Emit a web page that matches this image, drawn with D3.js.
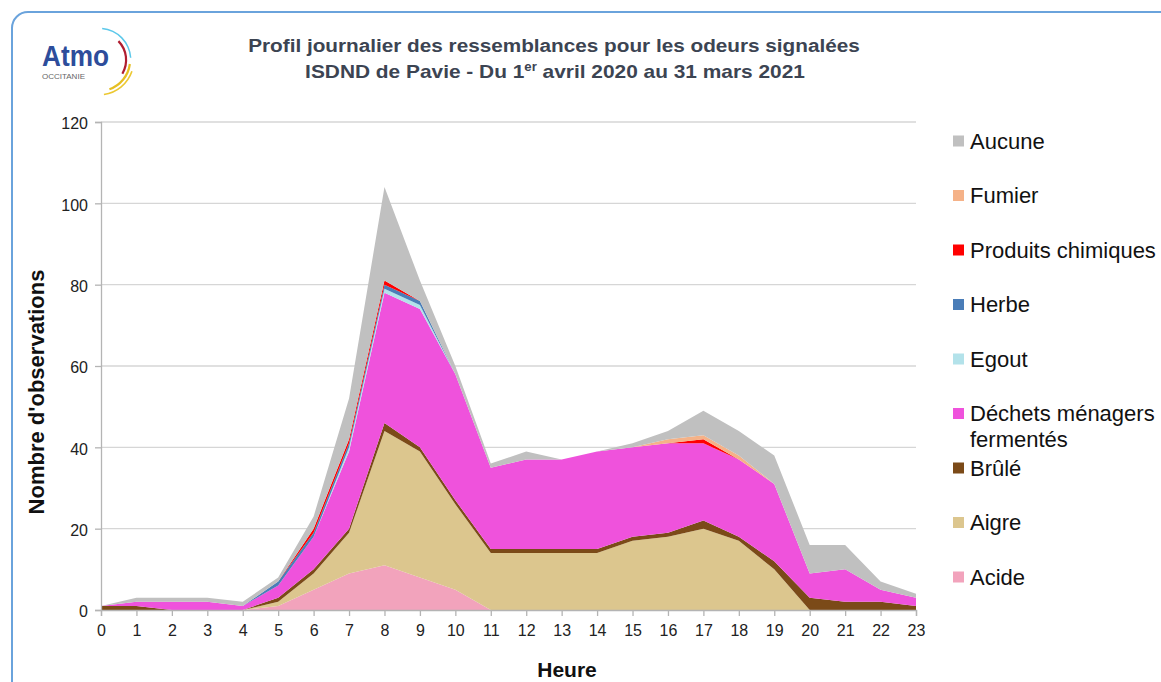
<!DOCTYPE html>
<html>
<head>
<meta charset="utf-8">
<script src="https://cdn.jsdelivr.net/npm/d3@7"></script>
<style>
  body { margin: 0; background: #fff; }
  svg { display: block; font-family: "Liberation Sans", Arial, sans-serif; }
</style>
</head>
<body>
<svg id="chart" width="1161" height="682"></svg>
<script>
const hours = [0,1,2,3,4,5,6,7,8,9,10,11,12,13,14,15,16,17,18,19,20,21,22,23];
const yTicks = [0,20,40,60,80,100,120];

// series, bottom to top of the stack
const acide    = [0,0,0,0,0,1,5,9,11,8,5,0,0,0,0,0,0,0,0,0,0,0,0,0];
const aigre    = [0,0,0,0,0,1,4,10,33,31,21,14,14,14,14,17,18,20,17,10,0,0,0,0];
const brule    = [1,1,0,0,0,1,1,1,2,1,1,1,1,1,1,1,1,2,1,2,3,2,2,1];
const dechets  = [0,1,2,2,1,3,8,19,32,34,31,20,22,22,24,22,22,19,19,19,6,8,3,2];
const egout    = [0,0,0,0,0,0,0,1,1,1,0,0,0,0,0,0,0,0,0,0,0,0,0,0];
const herbe    = [0,0,0,0,0,1,1,1,1,1,0,0,0,0,0,0,0,0,0,0,0,0,0,0];
const produits = [0,0,0,0,0,0,1,1,1,0,0,0,0,0,0,0,0,1,0,0,0,0,0,0];
const fumier   = [0,0,0,0,0,0,0,0,0,0,0,0,0,0,0,0,1,1,1,0,0,0,0,0];
const aucune   = [0,1,1,1,1,1,3,10,23,5,2,1,2,0,0,1,2,6,6,7,7,6,2,1];

const series = [
  {key: "acide",    label: ["Acide"],                        color: "#f2a3bc", values: acide},
  {key: "aigre",    label: ["Aigre"],                        color: "#dcc68e", values: aigre},
  {key: "brule",    label: ["Brûlé"],                        color: "#7b4a18", values: brule},
  {key: "dechets",  label: ["Déchets ménagers", "fermentés"], color: "#ef52dc", values: dechets},
  {key: "egout",    label: ["Egout"],                        color: "#b3e2ea", values: egout},
  {key: "herbe",    label: ["Herbe"],                        color: "#4a7db8", values: herbe},
  {key: "produits", label: ["Produits chimiques"],           color: "#ff0000", values: produits},
  {key: "fumier",   label: ["Fumier"],                       color: "#f5b288", values: fumier},
  {key: "aucune",   label: ["Aucune"],                       color: "#c0c0c0", values: aucune}
];

const rows = hours.map((h, i) => {
  const r = {hour: h};
  series.forEach(s => r[s.key] = s.values[i]);
  return r;
});

const svg = d3.select("#chart");

// stretch or squeeze a text to a given width, around its x
function fitText(sel, width) {
  const w = sel.node().getComputedTextLength();
  const cx = +sel.attr("x");
  sel.attr("transform", `translate(${cx},0) scale(${width / w},1) translate(${-cx},0)`);
}

// frame
svg.append("rect")
  .attr("x", 12).attr("y", 12)
  .attr("width", 1180).attr("height", 700)
  .attr("rx", 16)
  .attr("fill", "none")
  .attr("stroke", "#6aa3dc")
  .attr("stroke-width", 2);

// logo
const logo = svg.append("g");
const arc = d3.arc();
[
  {r: 31, a0: 0.1, a1: 1.5, c: "#5cc8ea", w: 1.5},
  {r: 26, a0: 0.8, a1: 2.1, c: "#b01e30", w: 2.2},
  {r: 30, a0: 1.7, a1: 2.8, c: "#e6bf22", w: 2.2},
  {r: 34, a0: 1.9, a1: 3.0, c: "#ecc832", w: 1.6}
].forEach(a => {
  logo.append("path")
    .attr("transform", "translate(99,60)")
    .attr("d", arc({innerRadius: a.r, outerRadius: a.r + a.w, startAngle: a.a0, endAngle: a.a1}))
    .attr("fill", a.c);
});
const logoText = logo.append("text")
  .attr("x", 42).attr("y", 66)
  .attr("font-size", 30).attr("font-weight", "bold")
  .attr("fill", "#2d4d9b")
  .text("Atmo");
fitText(logoText, 67);
const logoSub = logo.append("text")
  .attr("x", 42).attr("y", 79)
  .attr("font-size", 8)
  .attr("fill", "#666")
  .text("OCCITANIE");
fitText(logoSub, 43);

// title
const titleColor = "#3c4452";
const t1 = svg.append("text")
  .attr("x", 554).attr("y", 52)
  .attr("text-anchor", "middle")
  .attr("font-size", 19).attr("font-weight", "bold")
  .attr("fill", titleColor)
  .text("Profil journalier des ressemblances pour les odeurs signalées");
fitText(t1, 612);
const t2 = svg.append("text")
  .attr("x", 555).attr("y", 78)
  .attr("text-anchor", "middle")
  .attr("font-size", 19).attr("font-weight", "bold")
  .attr("fill", titleColor);
t2.append("tspan").text("ISDND de Pavie - Du 1");
t2.append("tspan").attr("font-size", 12).attr("dy", -7).text("er");
t2.append("tspan").attr("dy", 7).text(" avril 2020 au 31 mars 2021");
fitText(t2, 500);

// scales
const x = d3.scaleLinear().domain([0, 23]).range([101, 916]);
const y = d3.scaleLinear().domain([0, 120]).range([610, 122]);

// grid
svg.append("g")
  .selectAll("line")
  .data(yTicks.filter(d => d > 0))
  .join("line")
  .attr("x1", 101).attr("x2", 916)
  .attr("y1", d => y(d)).attr("y2", d => y(d))
  .attr("stroke", "#d6d6d6")
  .attr("stroke-width", 1.3);

// stacked areas
const stack = d3.stack().keys(series.map(s => s.key));
const layers = stack(rows);
const area = d3.area()
  .x(d => x(d.data.hour))
  .y0(d => y(d[0]))
  .y1(d => y(d[1]));

svg.append("g")
  .selectAll("path")
  .data(layers)
  .join("path")
  .attr("d", area)
  .attr("fill", (d, i) => series[i].color);

// axes
const yAxis = svg.append("g")
  .attr("transform", "translate(101,0)")
  .call(d3.axisLeft(y).tickValues(yTicks).tickSize(6).tickPadding(7));
const xAxis = svg.append("g")
  .attr("transform", "translate(0,610)")
  .call(d3.axisBottom(x).tickValues(hours).tickSize(6).tickPadding(9));

[yAxis, xAxis].forEach(a => {
  a.select(".domain").attr("stroke", "#b4b4b4").attr("stroke-width", 1.3);
  a.selectAll(".tick line").attr("stroke", "#b4b4b4").attr("stroke-width", 1.3);
  a.selectAll(".tick text")
    .attr("font-size", 16)
    .attr("font-family", "Liberation Sans, Arial, sans-serif")
    .attr("fill", "#222");
});
yAxis.selectAll(".tick text").attr("dy", "0.42em");

// axis titles
svg.append("text")
  .attr("transform", "translate(44,392) rotate(-90)")
  .attr("text-anchor", "middle")
  .attr("font-size", 22).attr("font-weight", "bold")
  .attr("fill", "#111")
  .text("Nombre d'observations");
svg.append("text")
  .attr("x", 567).attr("y", 677)
  .attr("text-anchor", "middle")
  .attr("font-size", 21).attr("font-weight", "bold")
  .attr("fill", "#111")
  .text("Heure");

// legend
const legendItems = series.slice().reverse();
const legend = svg.append("g")
  .selectAll("g")
  .data(legendItems)
  .join("g")
  .attr("transform", (d, i) => `translate(953,${141 + i * 54.5})`);
legend.append("rect")
  .attr("x", 0).attr("y", -5.5)
  .attr("width", 11).attr("height", 11)
  .attr("fill", d => d.color);
legend.append("text")
  .attr("x", 17).attr("y", 7.5)
  .attr("font-size", 22)
  .attr("fill", "#111")
  .selectAll("tspan")
  .data(d => d.label)
  .join("tspan")
  .attr("x", 17)
  .attr("dy", (d, i) => i ? 26 : 0)
  .text(d => d);
</script>
</body>
</html>
